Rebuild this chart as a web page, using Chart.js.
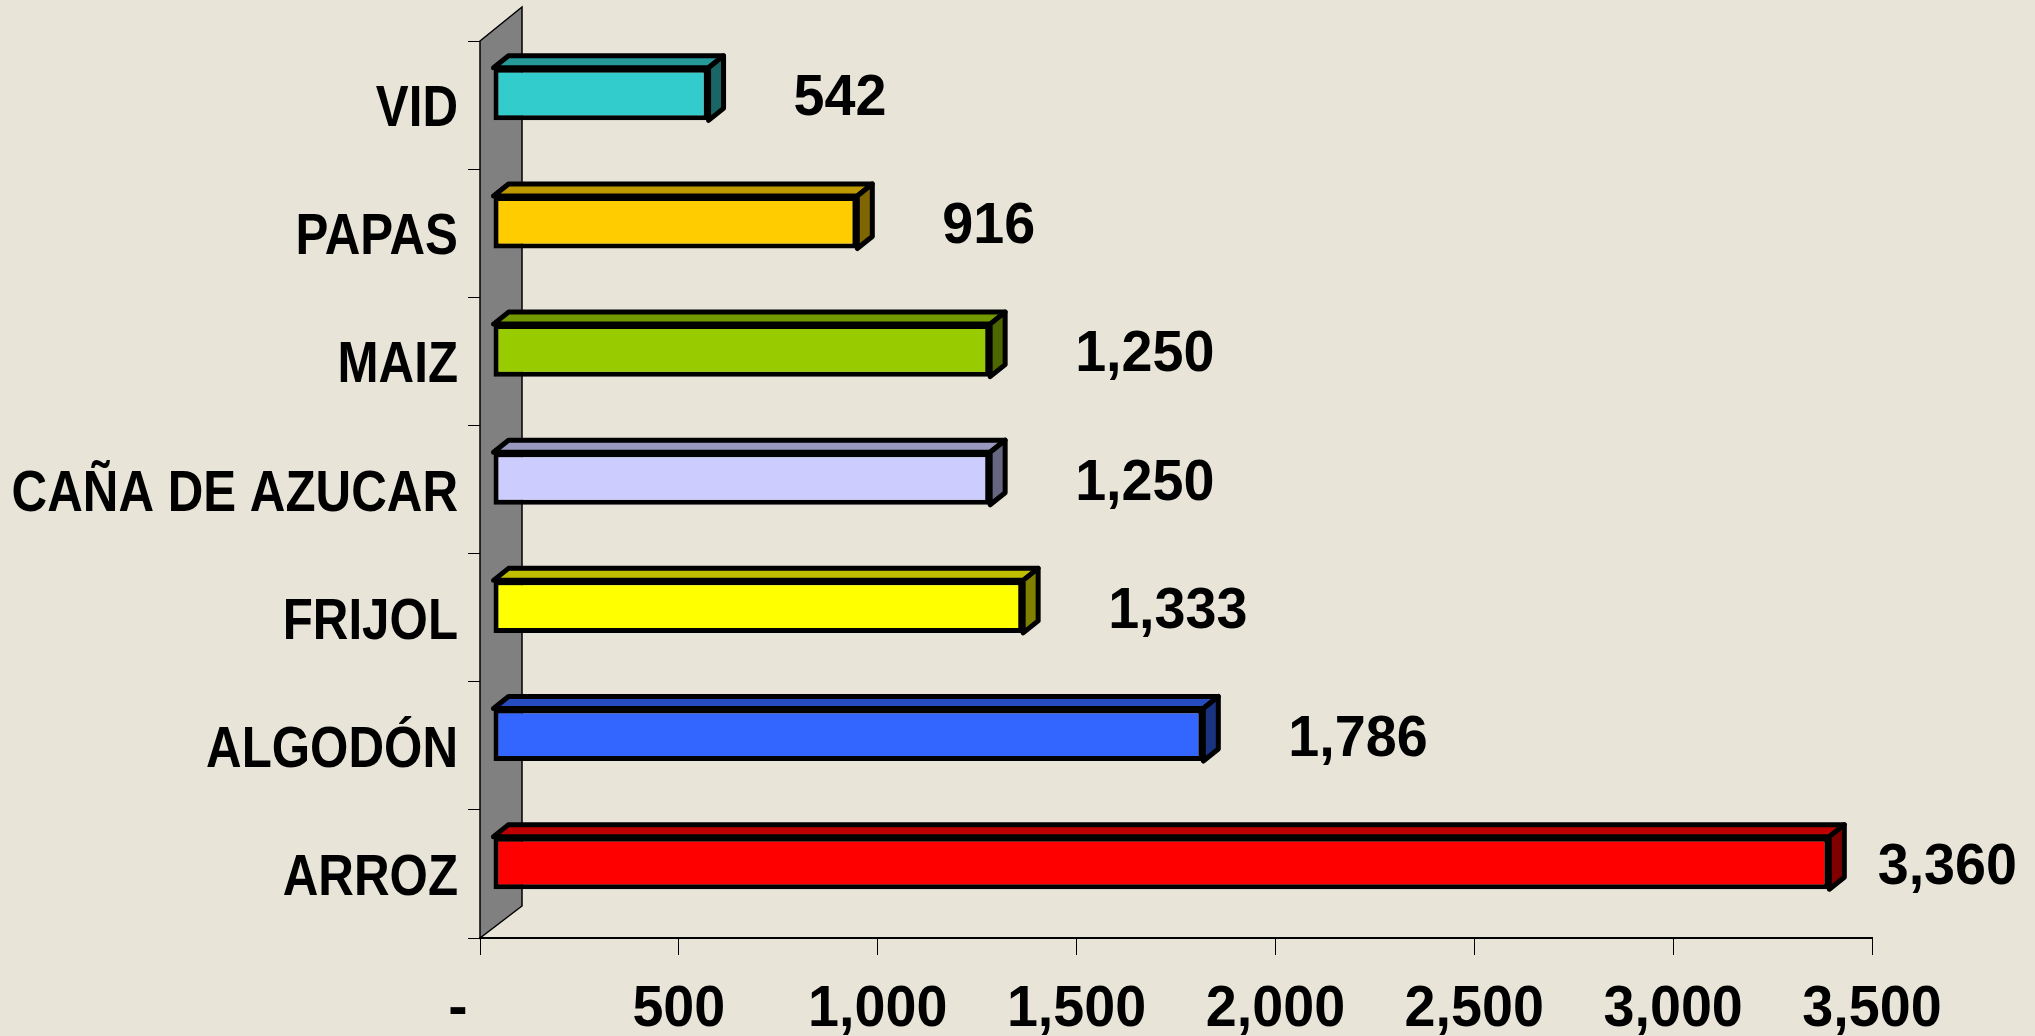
<!DOCTYPE html>
<html>
<head>
<meta charset="utf-8">
<script src="https://cdn.jsdelivr.net/npm/chart.js@4/dist/chart.umd.min.js"></script>
<style>
  html, body { margin: 0; padding: 0; background: #e8e4d8; }
  #wrap { width: 2035px; height: 1036px; position: relative; }
</style>
</head>
<body>
<div id="wrap"><canvas id="cropChart"></canvas></div>
<script>
  const categories = ['VID', 'PAPAS', 'MAIZ', 'CAÑA DE AZUCAR', 'FRIJOL', 'ALGODÓN', 'ARROZ'];
  const values = [542, 916, 1250, 1250, 1333, 1786, 3360];
  const xTicks = [0, 500, 1000, 1500, 2000, 2500, 3000, 3500];

  // front / top / side colours of each 3d bar
  const frontColors = ['#33cccc', '#ffcc00', '#99cc00', '#ccccff', '#ffff00', '#3366ff', '#ff0000'];
  const topColors = ['#269999', '#bf9900', '#739900', '#9999bf', '#bfbf00', '#264cbf', '#bf0000'];
  const sideColors = ['#1a6666', '#806600', '#4d6600', '#666680', '#808000', '#1a3380', '#800000'];

  const FONT = "bold 58px 'Liberation Sans', Arial, sans-serif";
  const CAP = 21;            // half cap height for 58px
  const front = { dx: 13, dy: -11 };
  const depth = { dx: 15, dy: -12 };
  const wall = { dx: 42, dy: -34 };

  const fmt = v => v.toLocaleString('en-US');

  // narrow-looking text: squeeze horizontally around the anchor
  function drawText(ctx, txt, x, y, align, sx) {
    ctx.save();
    ctx.font = FONT;
    ctx.fillStyle = '#000';
    ctx.textBaseline = 'alphabetic';
    ctx.textAlign = align;
    ctx.translate(x, y);
    ctx.scale(sx, 1);
    ctx.fillText(txt, 0, 0);
    ctx.restore();
  }

  const bars3d = {
    id: 'bars3d',
    beforeDatasetsDraw(chart) {
      // grey back wall
      const { ctx, chartArea } = chart;
      const x0 = chart.scales.x.getPixelForValue(0);
      ctx.save();
      ctx.beginPath();
      ctx.moveTo(x0, chartArea.top);
      ctx.lineTo(x0 + wall.dx, chartArea.top + wall.dy);
      ctx.lineTo(x0 + wall.dx, chartArea.bottom + wall.dy + 2);
      ctx.lineTo(x0, chartArea.bottom);
      ctx.closePath();
      ctx.fillStyle = '#808080';
      ctx.fill();
      ctx.strokeStyle = '#000';
      ctx.lineWidth = 1.5;
      ctx.stroke();
      ctx.restore();
    },
    beforeDatasetDraw(chart, args) {
      const ctx = chart.ctx;
      ctx.save();
      ctx.translate(front.dx, front.dy);
      ctx.lineJoin = 'round';
      ctx.strokeStyle = '#000';
      ctx.lineWidth = 5;
      args.meta.data.forEach((bar, i) => {
        const L = bar.base, R = bar.x;
        const T = bar.y - bar.height / 2, B = bar.y + bar.height / 2;
        ctx.beginPath();
        ctx.moveTo(L, T);
        ctx.lineTo(L + depth.dx, T + depth.dy);
        ctx.lineTo(R + depth.dx, T + depth.dy);
        ctx.lineTo(R, T);
        ctx.closePath();
        ctx.fillStyle = topColors[i];
        ctx.fill();
        ctx.stroke();
        ctx.beginPath();
        ctx.moveTo(R, T);
        ctx.lineTo(R + depth.dx, T + depth.dy);
        ctx.lineTo(R + depth.dx, B + depth.dy);
        ctx.lineTo(R, B);
        ctx.closePath();
        ctx.fillStyle = sideColors[i];
        ctx.fill();
        ctx.stroke();
      });
    },
    afterDatasetDraw(chart) {
      chart.ctx.restore();
    },
    afterDraw(chart) {
      const ctx = chart.ctx;
      const xs = chart.scales.x, ys = chart.scales.y;
      // category labels
      ys.ticks.forEach((t, i) => {
        drawText(ctx, categories[i], 458, ys.getPixelForTick(i) + CAP, 'right', 0.85);
      });
      // value axis labels
      xs.ticks.forEach(t => {
        const x = xs.getPixelForValue(t.value);
        if (t.value === 0) drawText(ctx, '-', x - 22, 1005 + CAP, 'center', 1);
        else drawText(ctx, fmt(t.value), x, 1005 + CAP, 'center', 0.96);
      });
      // value labels beside the bars
      const meta = chart.getDatasetMeta(0);
      ctx.save();
      ctx.font = FONT;
      meta.data.forEach((bar, i) => {
        const txt = fmt(values[i]);
        const w = ctx.measureText(txt).width * 0.96;
        let x = bar.x + front.dx + depth.dx + 70;
        if (x + w > chart.width - 18) x = chart.width - 18 - w;
        drawText(ctx, txt, x, bar.y + front.dy + CAP, 'left', 0.96);
      });
      ctx.restore();
    }
  };

  new Chart(document.getElementById('cropChart').getContext('2d'), {
    type: 'bar',
    data: {
      labels: categories,
      datasets: [{
        data: values,
        backgroundColor: frontColors,
        borderColor: '#000',
        borderWidth: 5,
        borderSkipped: false,
        categoryPercentage: 1,
        barPercentage: 0.41,
        clip: false
      }]
    },
    options: {
      indexAxis: 'y',
      responsive: true,
      maintainAspectRatio: false,
      animation: false,
      devicePixelRatio: 1,
      layout: { padding: { top: 41, right: 163, left: 0, bottom: 0 } },
      plugins: {
        legend: { display: false },
        title: { display: false },
        tooltip: { enabled: false }
      },
      scales: {
        x: {
          min: 0,
          max: 3500,
          afterFit: s => { s.height = 98; },
          afterBuildTicks: s => { s.ticks = xTicks.map(v => ({ value: v })); },
          grid: { drawOnChartArea: false, tickLength: 17, color: '#000', lineWidth: 1 },
          border: { color: '#000', width: 2 },
          ticks: { display: false }
        },
        y: {
          afterFit: s => { s.width = 480; },
          grid: { drawOnChartArea: false, tickLength: 12, color: '#000', lineWidth: 1, offset: true },
          border: { color: '#000', width: 1 },
          ticks: { display: false }
        }
      }
    },
    plugins: [bars3d]
  });
</script>
</body>
</html>
